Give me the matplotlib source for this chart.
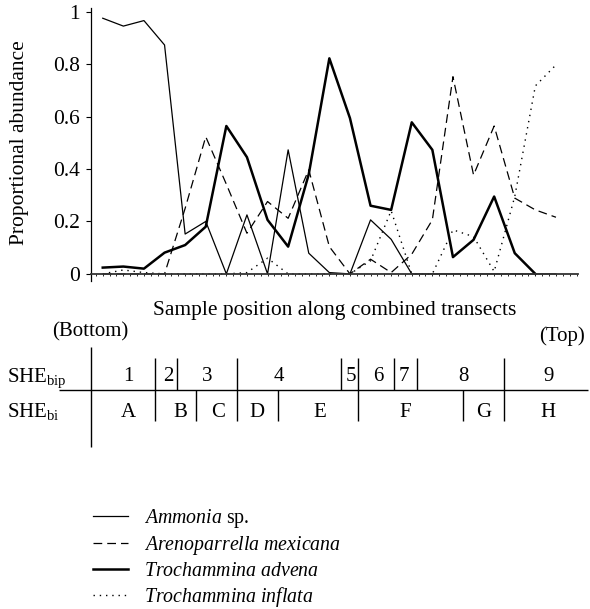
import numpy as np
import matplotlib.pyplot as plt
from matplotlib.ticker import MultipleLocator, FuncFormatter
from matplotlib.lines import Line2D

plt.rcParams['font.family'] = ['Liberation Serif', 'DejaVu Serif']
plt.rcParams['mathtext.fontset'] = 'custom'
plt.rcParams['mathtext.rm'] = 'Liberation Serif'
plt.rcParams['mathtext.it'] = 'Liberation Serif:italic'

# ---------- data (proportional abundance per sample) ----------
ammonia = [0.975, 0.945, 0.966, 0.873, 0.152, 0.200, 0.0, 0.225, 0.0, 0.473,
           0.079, 0.005, 0.0, 0.206, 0.132, 0.0, 0.0, 0.0, 0.0, 0.0, 0.0, 0.0, 0.0]
arenoparrella = [0.0, 0.0, 0.0, 0.0, 0.250, 0.523, 0.342, 0.155, 0.276, 0.212,
                 0.397, 0.104, 0.0, 0.056, 0.005, 0.075, 0.206, 0.752, 0.377,
                 0.564, 0.289, 0.244, 0.216]
advena = [0.024, 0.028, 0.020, 0.081, 0.110, 0.180, 0.564, 0.445, 0.206, 0.104,
          0.380, 0.822, 0.594, 0.260, 0.244, 0.578, 0.473, 0.064, 0.130, 0.295,
          0.079, 0.0]
inflata = [0.0, 0.015, 0.005, 0.0, 0.0, 0.0, 0.0, 0.005, 0.060, 0.0, 0.0, 0.0,
           0.0, 0.050, 0.241, 0.0, 0.0, 0.168, 0.142, 0.009, 0.295, 0.717, 0.797]

yticks = [0, 0.2, 0.4, 0.6, 0.8, 1]

# zone table (positions in sample-index units)
bip_labels = ['1', '2', '3', '4', '5', '6', '7', '8', '9']
bip_label_x = [1.24, 3.18, 5.05, 8.57, 12.05, 13.38, 14.64, 17.5, 21.63]
bip_edges = [2.55, 3.6, 6.5, 11.55, 12.4, 14.15, 15.25, 19.5]
bi_labels = ['A', 'B', 'C', 'D', 'E', 'F', 'G', 'H']
bi_label_x = [1.24, 3.75, 5.61, 7.48, 10.53, 14.67, 18.48, 21.63]
bi_edges = [2.55, 4.55, 6.5, 8.5, 12.4, 17.5, 19.5]

W, H = 590, 609
def fx(px): return px / W
def fy(py): return 1 - py / H

fig = plt.figure(figsize=(W / 100, H / 100), dpi=100)
ax = fig.add_axes([fx(91), fy(281.5), (578 - 91) / W, (281.5 - 8) / H])

x_left, x_right = -0.57, 23.07
ax.plot(np.arange(len(ammonia)), ammonia, color='k', lw=0.9, clip_on=False)
ax.plot(np.arange(len(arenoparrella)), arenoparrella, color='k', lw=0.9,
        dashes=(7, 4), clip_on=False)
ax.plot(np.arange(len(advena)), advena, color='k', lw=1.8, clip_on=False)
ax.plot(np.arange(len(inflata)), inflata, color='k', lw=1.0,
        linestyle=(0, (1, 3.5)), clip_on=False)

ax.set_xlim(x_left, x_right)
ax.set_ylim(-0.029, 1.014)
for s in ['top', 'right']:
    ax.spines[s].set_visible(False)
ax.spines['bottom'].set_position(('data', 0))
ax.spines['bottom'].set_linewidth(1.3)
ax.spines['bottom'].set_color('#333333')
ax.spines['left'].set_linewidth(0.9)
ax.set_xticks([])
ax.xaxis.set_minor_locator(MultipleLocator(1 / 3))
ax.tick_params(axis='x', which='minor', length=1.5, width=0.6, direction='out')
ax.set_yticks(yticks)
ax.yaxis.set_major_formatter(FuncFormatter(lambda v, p: f"{v:g}"))
ax.tick_params(axis='y', length=3.6, width=0.8, pad=4.3, labelsize=15.5)

fig.text(fx(20), fy(142.5), 'Proportional abundance', rotation=90,
         ha='center', va='center', fontsize=15.5)
fig.text(fx(335), fy(315), 'Sample position along combined transects',
         ha='center', va='baseline', fontsize=15.5)
fig.text(fx(90), fy(336), '(Bottom)', ha='center', va='baseline', fontsize=15)
fig.text(fx(585), fy(341), '(Top)', ha='right', va='baseline', fontsize=15)

# ---------- zone table ----------
tab = fig.add_axes([fx(91), fy(460), (578 - 91) / W, 160 / H], sharex=ax)
tab.set_ylim(460, 300)
tab.axis('off')
tab.vlines(bip_edges, 358, 390, color='k', lw=1.0)
tab.vlines(bi_edges, 390, 421, color='k', lw=1.0)
tab.vlines([x_left], 346.7, 446.7, color='k', lw=1.0, clip_on=False)
tab.hlines([390], -2.1, 23.56, color='k', lw=1.0, clip_on=False)
for lab, xp in zip(bip_labels, bip_label_x):
    tab.text(xp, 381.5, lab, ha='center', va='baseline', fontsize=15)
for lab, xp in zip(bi_labels, bi_label_x):
    tab.text(xp, 416.7, lab, ha='center', va='baseline', fontsize=15)
fig.text(fx(6.7), fy(381.5), r'SHE$_{\mathregular{bip}}$', ha='left',
         va='baseline', fontsize=15)
fig.text(fx(6.7), fy(416.7), r'SHE$_{\mathregular{bi}}$', ha='left',
         va='baseline', fontsize=15)

# ---------- legend ----------
handles = [Line2D([], [], color='k', lw=0.9),
           Line2D([], [], color='k', lw=0.9, dashes=(7, 4)),
           Line2D([], [], color='k', lw=1.8),
           Line2D([], [], color='k', lw=1.0, linestyle=(0, (1, 3.5)))]
labels = [r'$\mathit{Ammonia}$ sp.',
          r'$\mathit{Arenoparrella\ mexicana}$',
          r'$\mathit{Trochammina\ advena}$',
          r'$\mathit{Trochammina\ inflata}$']
fig.legend(handles, labels, loc='upper left', bbox_to_anchor=(fx(93), fy(507)),
           frameon=False, fontsize=14.3, handlelength=1.75, handletextpad=0.82,
           labelspacing=0.22, borderpad=0, borderaxespad=0)

fig.savefig('out.png', dpi=100)
